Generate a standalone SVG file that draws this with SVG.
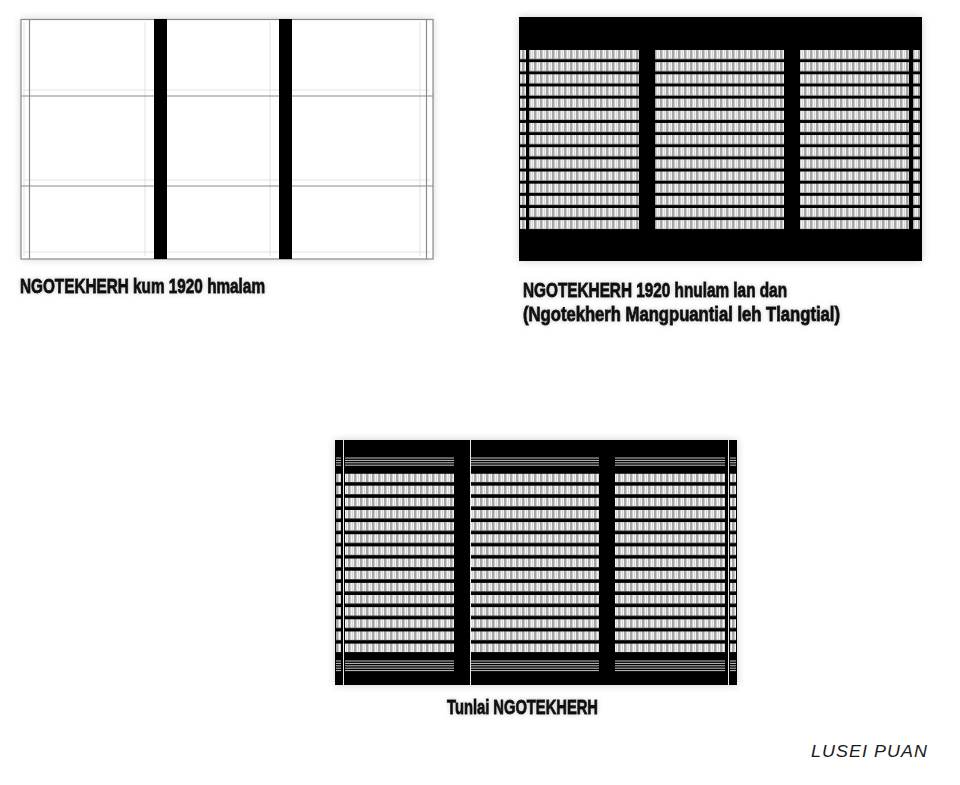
<svg xmlns="http://www.w3.org/2000/svg" width="960" height="785" viewBox="0 0 960 785">
<style>
.cap{font-family:"Liberation Sans",Arial,sans-serif;font-weight:bold;font-size:20px;fill:#111;stroke:#111;stroke-width:0.9;filter:url(#tshadow)}
.sig{font-family:"Liberation Sans",Arial,sans-serif;font-style:italic;font-size:17px;fill:#1a1a1a;letter-spacing:1px}
.thin{stroke:#8a8a8a;stroke-width:1.2;fill:none}
.faint{stroke:#e2e2e2;stroke-width:1;fill:none}
.hl{stroke:#c4c4c4;stroke-width:1;fill:none}
.wl{stroke:#e6e6e6;stroke-width:1;fill:none}
.halo{fill:#000;opacity:0.18;filter:url(#blur)}
</style>
<defs>
<filter id="blur" x="-10%" y="-10%" width="120%" height="120%"><feGaussianBlur stdDeviation="4"/></filter>
<filter id="tshadow" x="-5%" y="-40%" width="110%" height="180%">
<feGaussianBlur in="SourceAlpha" stdDeviation="2" result="b"/>
<feFlood flood-color="#888" flood-opacity="0.45"/>
<feComposite in2="b" operator="in" result="s"/>
<feMerge><feMergeNode in="s"/><feMergeNode in="SourceGraphic"/></feMerge>
</filter>
<pattern id="w2" patternUnits="userSpaceOnUse" x="0" y="50" width="6" height="12.15">
<rect x="0" y="0" width="6" height="9.2" fill="#f2f2f2"/>
<rect x="0" y="0" width="2.5" height="9.2" fill="#a6a6a6"/>
<rect x="4" y="0" width="0.8" height="9.2" fill="#cfcfcf"/>
<rect x="0" y="9.2" width="6" height="2.95" fill="#000"/>
</pattern>
<pattern id="w3" patternUnits="userSpaceOnUse" x="0" y="473.5" width="6" height="12.15">
<rect x="0" y="0" width="6" height="8.8" fill="#f2f2f2"/>
<rect x="0" y="0" width="2.5" height="8.8" fill="#a6a6a6"/>
<rect x="4" y="0" width="0.8" height="8.8" fill="#cfcfcf"/>
<rect x="0" y="8.8" width="6" height="3.35" fill="#000"/>
</pattern>
</defs>
<rect width="960" height="785" fill="#fff"/>

<g id="panel1">
<rect class="halo" x="21" y="19" width="412" height="240"/>
<rect x="21" y="19" width="412" height="240" fill="#fff"/>
<path class="faint" d="M24 22 V256 M145 22 V256 M270 22 V256 M420 22 V256 M24 90 H430 M24 180 H430 M24 252 H430"/>
<rect class="thin" x="21" y="19.5" width="412" height="239.5"/>
<path class="thin" d="M29.5 19.5 V259 M426.5 19.5 V259 M21 96 H433 M21 186 H433"/>
<rect x="154" y="19" width="13" height="240" fill="#000"/>
<rect x="279" y="19" width="13" height="240" fill="#000"/>
</g>

<g id="panel2">
<rect class="halo" x="519" y="17" width="403" height="244"/>
<rect x="519" y="17" width="403" height="244" fill="#000"/>
<rect x="520" y="50" width="6" height="179.2" fill="url(#w2)"/>
<rect x="529" y="50" width="110" height="179.2" fill="url(#w2)"/>
<rect x="655" y="50" width="129" height="179.2" fill="url(#w2)"/>
<rect x="800" y="50" width="109" height="179.2" fill="url(#w2)"/>
<rect x="913" y="50" width="7" height="179.2" fill="url(#w2)"/>
</g>

<g id="panel3">
<rect class="halo" x="335" y="440" width="402" height="245"/>
<rect x="335" y="440" width="402" height="245" fill="#000"/>
<rect x="336" y="473.5" width="5" height="178.9" fill="url(#w3)"/>
<rect x="345" y="473.5" width="109" height="178.9" fill="url(#w3)"/>
<rect x="471" y="473.5" width="128" height="178.9" fill="url(#w3)"/>
<rect x="615" y="473.5" width="110" height="178.9" fill="url(#w3)"/>
<rect x="730" y="473.5" width="6" height="178.9" fill="url(#w3)"/>
<path class="hl" d="M336 458 H341 M345 458 H454 M471 458 H599 M615 458 H725 M730 458 H736 M336 460.4 H341 M345 460.4 H454 M471 460.4 H599 M615 460.4 H725 M730 460.4 H736 M336 462.8 H341 M345 462.8 H454 M471 462.8 H599 M615 462.8 H725 M730 462.8 H736 M336 465.2 H341 M345 465.2 H454 M471 465.2 H599 M615 465.2 H725 M730 465.2 H736"/>
<path class="hl" d="M336 661 H341 M345 661 H454 M471 661 H599 M615 661 H725 M730 661 H736 M336 663.4 H341 M345 663.4 H454 M471 663.4 H599 M615 663.4 H725 M730 663.4 H736 M336 665.8 H341 M345 665.8 H454 M471 665.8 H599 M615 665.8 H725 M730 665.8 H736 M336 668.2 H341 M345 668.2 H454 M471 668.2 H599 M615 668.2 H725 M730 668.2 H736 M336 670.6 H341 M345 670.6 H454 M471 670.6 H599 M615 670.6 H725 M730 670.6 H736"/>
<path class="wl" d="M343.5 440 V685 M470.5 440 V685 M728.5 440 V685"/>
</g>

<g id="captions">
<text class="cap" x="20" y="293" textLength="245" lengthAdjust="spacingAndGlyphs">NGOTEKHERH kum 1920 hmalam</text>
<text class="cap" x="523" y="297" textLength="264" lengthAdjust="spacingAndGlyphs">NGOTEKHERH 1920 hnulam lan dan</text>
<text class="cap" x="523" y="321" textLength="317" lengthAdjust="spacingAndGlyphs">(Ngotekherh Mangpuantial leh Tlangtial)</text>
<text class="cap" x="447" y="714" textLength="151" lengthAdjust="spacingAndGlyphs">Tunlai NGOTEKHERH</text>
<text class="sig" x="811" y="757" textLength="117" lengthAdjust="spacingAndGlyphs">LUSEI PUAN</text>
</g>
</svg>
